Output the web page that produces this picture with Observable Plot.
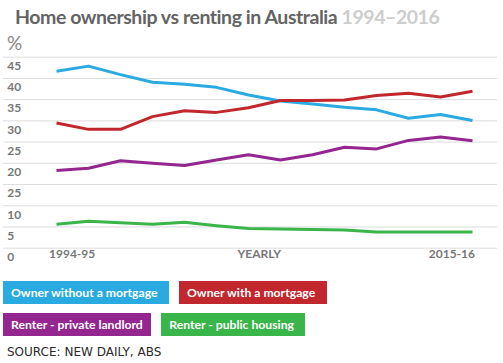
<!DOCTYPE html>
<html>
<head>
<meta charset="utf-8">
<script src="https://cdn.jsdelivr.net/npm/d3@7"></script>
<script src="https://cdn.jsdelivr.net/npm/@observablehq/plot@0.6"></script>
<style>
  html, body { margin: 0; padding: 0; background: #fff; }
  body { width: 503px; height: 363px; position: relative; overflow: hidden; font-family: Lato, sans-serif; }
  #title { position: absolute; left: 15px; top: 5px; font: 700 19.5px/1.2 Lato, sans-serif; color: #646464; white-space: nowrap; letter-spacing: -0.45px; }
  #title span { color: #cdcdcd; }
  #pct { position: absolute; left: 7px; top: 31px; font: 400 19px Lato, sans-serif; color: #888; }
  #chart { position: absolute; left: 0; top: 30px; }
  .legend { position: absolute; left: 3px; display: flex; gap: 10px; }
  .legend div { height: 23px; color: #fff; font: 700 12.2px/23px Lato, sans-serif; padding-left: 8px; box-sizing: border-box; white-space: nowrap; }
  #src { position: absolute; left: 7px; top: 345px; font: 400 12px "DejaVu Sans", sans-serif; color: #2a2a2a; white-space: nowrap; }
</style>
</head>
<body>
<div id="title">Home ownership vs renting in Australia <span>1994–2016</span></div>
<div id="pct">%</div>
<div id="chart"></div>
<div class="legend" id="leg1" style="top:281px"></div>
<div class="legend" id="leg2" style="top:313px"></div>
<div id="src">SOURCE: NEW DAILY, ABS</div>
<script>
// ---- data ----
const years = ["1994-95","1995-96","1996-97","1997-98","1999-00","2000-01","2002-03","2003-04","2005-06","2007-08","2009-10","2011-12","2013-14","2015-16"];
const ownerWithoutMortgage = [41.7, 42.9, 40.9, 39.1, 38.6, 37.9, 36.1, 34.7, 34.0, 33.2, 32.6, 30.6, 31.5, 30.1];
const ownerWithMortgage    = [29.5, 28.0, 28.0, 31.0, 32.4, 32.0, 33.1, 34.8, 34.8, 34.9, 36.0, 36.5, 35.6, 37.0];
const renterPrivate        = [18.3, 18.85, 20.6, 20.0, 19.5, 20.8, 22.0, 20.8, 22.0, 23.8, 23.4, 25.4, 26.2, 25.3];
const renterPublic         = [5.65, 6.35, 6.0, 5.65, 6.1, 5.3, 4.65, 4.55, 4.4, 4.3, 3.8, 3.8, 3.8, 3.8];
const seriesNames = ["Owner without a mortgage", "Owner with a mortgage", "Renter - private landlord", "Renter - public housing"];
const yTickValues = [0, 5, 10, 15, 20, 25, 30, 35, 40, 45];
const yTickLabels = ["0", "5", "10", "25", "20", "25", "30", "35", "40", "45"];
const xMiddleLabel = "YEARLY";

// ---- styles ----
const palette = ["#29ABE2", "#C1272D", "#93278F", "#39B54A"];
const W = 503, H = 240;

const seriesValues = [ownerWithoutMortgage, ownerWithMortgage, renterPrivate, renterPublic];
const rows = seriesNames.flatMap((name, s) => years.map((year, i) => ({series: name, year, value: seriesValues[s][i]})));

const axisFont = {fontFamily: "Lato, sans-serif", fontWeight: 700, fontSize: 12, fill: "#777"};

const chart = Plot.plot({
  width: W,
  height: H,
  marginTop: 26.7,
  marginBottom: 22.3,
  marginLeft: 52.3,
  marginRight: 28.2,
  x: {type: "point", domain: years, padding: 0, axis: null},
  y: {domain: [0, 45], axis: null},
  color: {domain: seriesNames, range: palette},
  marks: [
    Plot.ruleY(yTickValues, {y: d => d, stroke: "#dcdcdc", strokeWidth: 1, insetLeft: -49.3, insetRight: -22.2}),
    Plot.text(yTickValues, {y: d => d, text: (d, i) => yTickLabels[i], frameAnchor: "left", textAnchor: "start", dx: -45.5, dy: 9, ...axisFont}),
    Plot.text([years[0]], {x: d => d, text: d => d, frameAnchor: "bottom", textAnchor: "start", dx: -7.5, dy: 10, ...axisFont}),
    Plot.text([years[years.length - 1]], {x: d => d, text: d => d, frameAnchor: "bottom", textAnchor: "end", dx: 2.5, dy: 10, ...axisFont}),
    Plot.text([xMiddleLabel], {text: d => d, frameAnchor: "bottom", textAnchor: "middle", dx: -4.8, dy: 10, ...axisFont}),
    Plot.line(rows, {x: "year", y: "value", z: "series", stroke: "series", strokeWidth: 3, strokeLinejoin: "round", strokeLinecap: "butt"})
  ]
});
document.getElementById("chart").appendChild(chart);

// ---- legend ----
const boxWidths = [166, 148.4, 148.3, 143.4];
const legRows = [[0, 1], [2, 3]];
legRows.forEach((r, k) => {
  const el = document.getElementById(k === 0 ? "leg1" : "leg2");
  r.forEach(i => {
    const d = document.createElement("div");
    d.textContent = seriesNames[i];
    d.style.background = palette[i];
    d.style.width = boxWidths[i] + "px";
    el.appendChild(d);
  });
});
</script>
</body>
</html>
